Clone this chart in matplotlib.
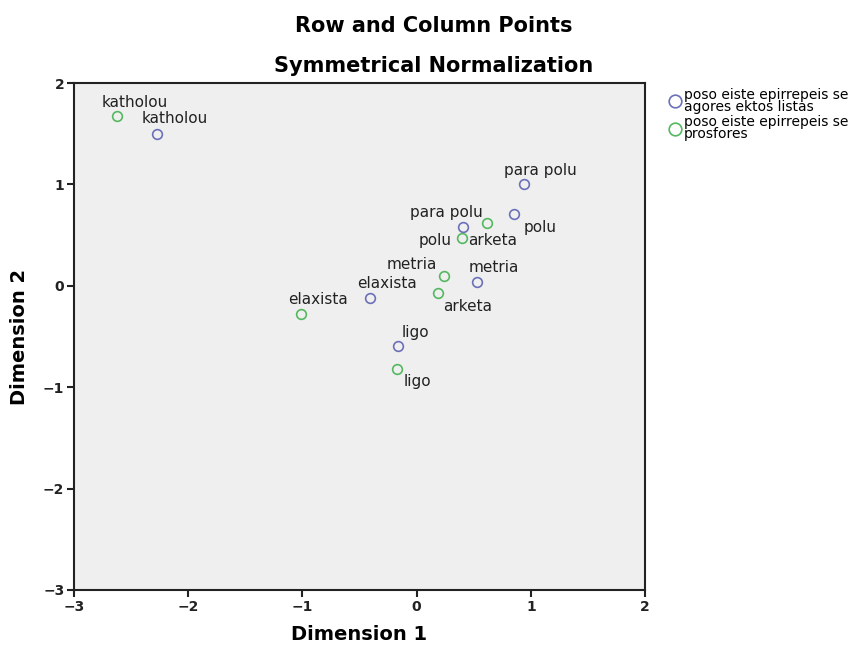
import matplotlib
matplotlib.use('Agg')
import matplotlib.pyplot as plt

categories = ['katholou', 'ligo', 'elaxista', 'metria', 'arketa', 'polu', 'para polu']

# row points: poso eiste epirrepeis se agores ektos listas
row_x = [-2.27, -0.16, -0.41, 0.53, 0.41, 0.85, 0.94]
row_y = [1.50, -0.59, -0.12, 0.04, 0.58, 0.71, 1.00]

# column points: poso eiste epirrepeis se prosfores
col_x = [-2.62, -0.17, -1.01, 0.24, 0.19, 0.40, 0.62]
col_y = [1.67, -0.82, -0.28, 0.10, -0.07, 0.47, 0.62]

row_name = 'poso eiste epirrepeis se\nagores ektos listas'
col_name = 'poso eiste epirrepeis se\nprosfores'

x_ticks = [-3, -2, -1, 0, 1, 2]
y_ticks = [-3, -2, -1, 0, 1, 2]

plt.rcParams['font.family'] = 'DejaVu Sans'

blue = '#6b70b8'
green = '#55b860'

fig = plt.figure(figsize=(8.67, 6.46), dpi=100)
ax = fig.add_axes([0.0854, 0.0867, 0.6586, 0.7848])
ax.set_facecolor('#efefef')

ax.plot(row_x, row_y, 'o', ms=7, mfc='none', mec=blue, mew=1.2, label=row_name)
ax.plot(col_x, col_y, 'o', ms=7, mfc='none', mec=green, mew=1.2, label=col_name)

# label offsets in pixels (dx, dy)
row_off = [(17, 15), (17, 13), (17, 14), (17, 14), (29, -14), (26, -14), (16, 14)]
col_off = [(17, 14), (20, -13), (17, 15), (-32, 11), (29, -14), (-27, -2), (-41, 10)]

for name, x, y, off in zip(categories, row_x, row_y, row_off):
    ax.annotate(name, (x, y), xytext=off, textcoords='offset pixels',
                ha='center', va='center', fontsize=11, color='#222222')
for name, x, y, off in zip(categories, col_x, col_y, col_off):
    ax.annotate(name, (x, y), xytext=off, textcoords='offset pixels',
                ha='center', va='center', fontsize=11, color='#222222')

ax.set_xlim(-3, 2)
ax.set_ylim(-3, 2)
ax.set_xticks(x_ticks)
ax.set_yticks(y_ticks)
ax.set_xticklabels(['\u22123', '\u22122', '\u22121', '0', '1', '2'], fontweight='bold')
ax.set_yticklabels(['\u22123', '\u22122', '\u22121', '0', '1', '2'], fontweight='bold')
ax.tick_params(direction='out', length=5, width=1.5, labelsize=10, pad=2,
               colors='#222222')
for s in ax.spines.values():
    s.set_linewidth(1.5)
    s.set_color('#222222')

ax.set_xlabel('Dimension 1', fontsize=14, fontweight='bold', labelpad=8)
ax.set_ylabel('Dimension 2', fontsize=14, fontweight='bold', labelpad=10)

fig.text(0.5, 0.96, 'Row and Column Points', ha='center', va='center',
         fontsize=15, fontweight='bold')
fig.text(0.5, 0.898, 'Symmetrical Normalization', ha='center', va='center',
         fontsize=15, fontweight='bold')

leg = ax.legend(loc='upper left', bbox_to_anchor=(1.02, 1.01), frameon=False,
                fontsize=10, handletextpad=0.05, labelspacing=0.05, handlelength=1.2,
                borderaxespad=0.3, markerscale=1.3)
for t in leg.get_texts():
    t.set_linespacing(0.85)

fig.savefig('out.png', dpi=100)
